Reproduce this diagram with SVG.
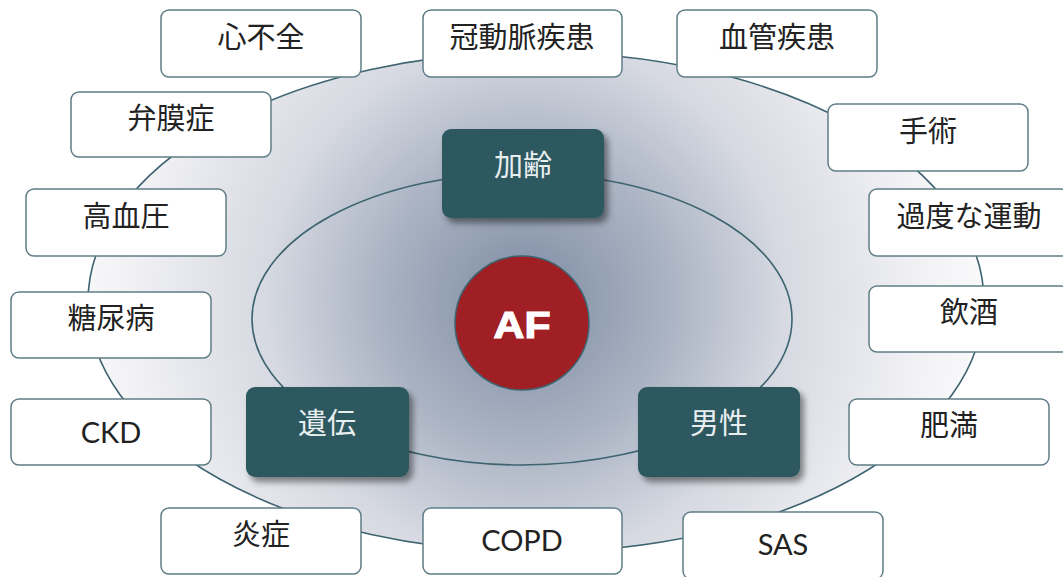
<svg xmlns="http://www.w3.org/2000/svg" width="1063" height="577" viewBox="0 0 1063 577">
<defs>
<radialGradient id="bg" gradientUnits="userSpaceOnUse" cx="525" cy="300" r="470">
<stop offset="0" stop-color="#7d8ca3"/>
<stop offset="0.3" stop-color="#a9b2c2"/>
<stop offset="0.55" stop-color="#d6d9e1"/>
<stop offset="0.85" stop-color="#f2f2f5"/>
<stop offset="1" stop-color="#fbfbfc"/>
</radialGradient>
<filter id="sh" x="-20%" y="-20%" width="150%" height="160%">
<feDropShadow dx="4" dy="5" stdDeviation="3" flood-color="#000" flood-opacity="0.45"/>
</filter>
</defs>
<style>
.wb{fill:#fff;stroke:#5f7d87;stroke-width:1.5}
.tb{fill:#2d5960;filter:url(#sh)}
.line{stroke:#3d6470;stroke-width:1.6}
.t{font-family:Lato,"Noto Sans CJK JP",sans-serif;font-size:29px;fill:#222;text-anchor:middle}
.tt{font-family:Lato,"Noto Sans CJK JP",sans-serif;font-size:29px;fill:#e8eef0;text-anchor:middle}
</style>
<rect width="1063" height="577" fill="#fff"/>
<g id="connectors">
<ellipse cx="536" cy="302" rx="448" ry="250" fill="url(#bg)" class="line"/>
<ellipse cx="522" cy="319" rx="270" ry="146" fill="none" class="line"/>
</g>
<g id="af">
<circle cx="522" cy="323" r="67" fill="#a01f24" stroke="#3d6470" stroke-width="1.5"/>
<text x="522" y="338" font-family="Liberation Sans,Arial,sans-serif" font-weight="bold" font-size="37" fill="#fff" stroke="#fff" stroke-width="1.2" text-anchor="middle" textLength="57" lengthAdjust="spacingAndGlyphs">AF</text>
</g>
<g id="aging"><rect class="tb" x="442" y="129" width="162" height="89" rx="9"/><text class="tt" x="523" y="176">加齢</text></g>
<g id="genetics"><rect class="tb" x="246" y="387" width="163" height="90" rx="9"/><text class="tt" x="327" y="434">遺伝</text></g>
<g id="male"><rect class="tb" x="638" y="387" width="162" height="90" rx="9"/><text class="tt" x="719" y="434">男性</text></g>
<g id="heart-failure"><rect class="wb" x="161" y="10" width="200" height="67" rx="8"/><text class="t" x="261" y="48">心不全</text></g>
<g id="coronary"><rect class="wb" x="423" y="10" width="199" height="67" rx="8"/><text class="t" x="522" y="48">冠動脈疾患</text></g>
<g id="vascular"><rect class="wb" x="677" y="10" width="200" height="67" rx="8"/><text class="t" x="777" y="48">血管疾患</text></g>
<g id="surgery"><rect class="wb" x="828" y="104" width="200" height="67" rx="8"/><text class="t" x="928" y="142">手術</text></g>
<g id="exercise"><rect class="wb" x="869" y="189" width="200" height="67" rx="8"/><text class="t" x="969" y="227">過度な運動</text></g>
<g id="alcohol"><rect class="wb" x="869" y="286" width="200" height="66" rx="8"/><text class="t" x="969" y="323">飲酒</text></g>
<g id="obesity"><rect class="wb" x="849" y="399" width="200" height="66" rx="8"/><text class="t" x="949" y="436">肥満</text></g>
<g id="sas"><rect class="wb" x="683" y="512" width="200" height="67" rx="8"/><text class="t" x="783" y="555">SAS</text></g>
<g id="copd"><rect class="wb" x="423" y="508" width="199" height="66" rx="8"/><text class="t" x="522" y="551">COPD</text></g>
<g id="inflammation"><rect class="wb" x="161" y="508" width="200" height="66" rx="8"/><text class="t" x="261" y="545">炎症</text></g>
<g id="ckd"><rect class="wb" x="11" y="399" width="200" height="66" rx="8"/><text class="t" x="111" y="443">CKD</text></g>
<g id="diabetes"><rect class="wb" x="11" y="292" width="200" height="66" rx="8"/><text class="t" x="111" y="329">糖尿病</text></g>
<g id="hypertension"><rect class="wb" x="26" y="189" width="200" height="67" rx="8"/><text class="t" x="126" y="227">高血圧</text></g>
<g id="valvular"><rect class="wb" x="71" y="92" width="200" height="65" rx="8"/><text class="t" x="171" y="129">弁膜症</text></g>
</svg>
